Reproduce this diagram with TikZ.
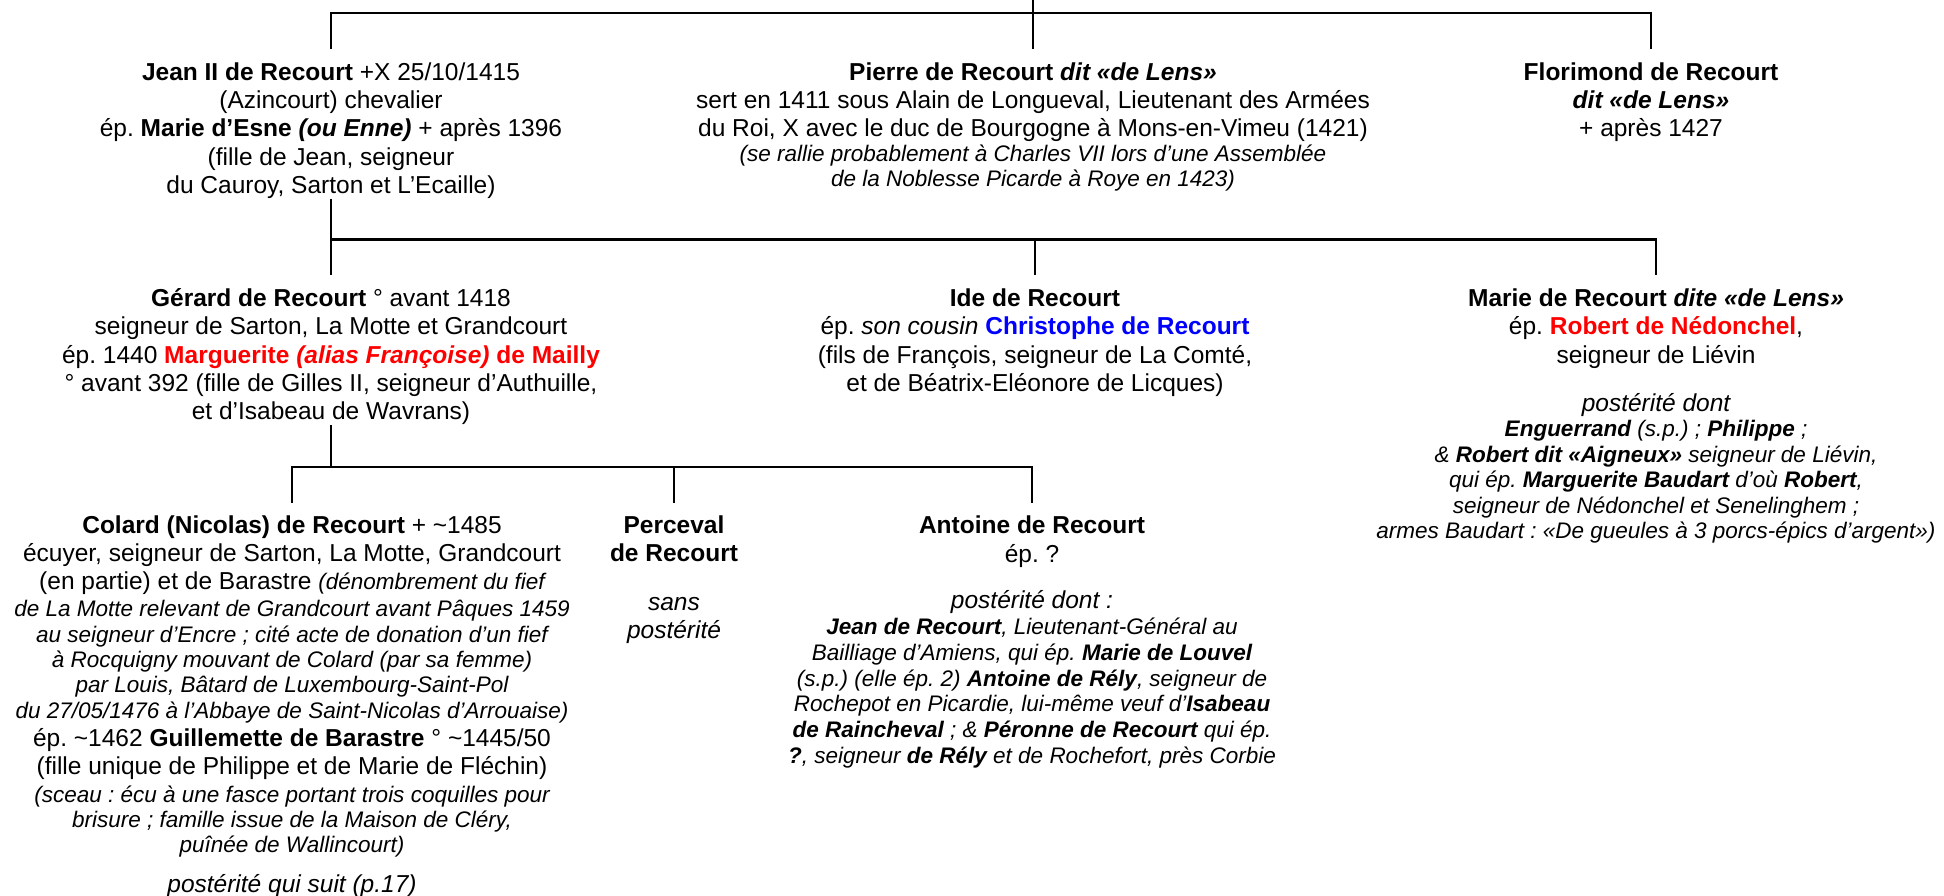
\documentclass[tikz,border=0pt]{standalone}
\usepackage{fontspec}
\setmainfont{Liberation Sans}
\frenchspacing
\definecolor{myred}{RGB}{255,0,0}
\definecolor{myblue}{RGB}{0,0,255}
\newcommand\fR{\fontsize{24.5}{28.3}\selectfont}
\newcommand\fS{\fontsize{22.5}{25.5}\selectfont\itshape}
\newcommand\Blk[1]{\parbox[t]{760pt}{\centering\fR\frenchspacing #1}}
\begin{document}
\begin{tikzpicture}[x=1pt,y=-1pt,
  conn/.style={line width=2.7pt, line join=miter},
  blk/.style={inner sep=0pt, anchor=base}]
\useasboundingbox (0,0) rectangle (1944,896);

% ---------- generation 1 ----------
\node[blk] (jean) at (331,80.4) {\Blk{%
\textbf{Jean II de Recourt} +X 25/10/1415\\
(Azincourt) chevalier\\
ép. \textbf{Marie d’Esne \textit{(ou Enne)}} + après 1396\\
(fille de Jean, seigneur\\
du Cauroy, Sarton et L’Ecaille)}};

\node[blk] (pierre) at (1033,80.4) {\Blk{%
\textbf{Pierre de Recourt \textit{dit «de Lens»}}\\
sert en 1411 sous Alain de Longueval, Lieutenant des Armées\\
du Roi, X avec le duc de Bourgogne à Mons-en-Vimeu (1421)\\[-3.3pt]
{\fS (se rallie probablement à Charles VII lors d’une Assemblée}\\[-3.5pt]
{\fS de la Noblesse Picarde à Roye en 1423)}}};

\node[blk] (flor) at (1651,80.4) {\Blk{%
\textbf{Florimond de Recourt}\\
\textbf{\textit{dit «de Lens»}}\\
+ après 1427}};

% ---------- generation 2 ----------
\node[blk] (gerard) at (331,306.4) {\Blk{%
\textbf{Gérard de Recourt} ° avant 1418\\
seigneur de Sarton, La Motte et Grandcourt\\
ép. 1440 \textcolor{myred}{\textbf{Marguerite \textit{(alias Françoise)} de Mailly}}\\
° avant 392 (fille de Gilles II, seigneur d’Authuille,\\
et d’Isabeau de Wavrans)}};

\node[blk] (ide) at (1035,306.4) {\Blk{%
\textbf{Ide de Recourt}\\
ép. \textit{son cousin} \textcolor{myblue}{\textbf{Christophe de Recourt}}\\
(fils de François, seigneur de La Comté,\\
et de Béatrix-Eléonore de Licques)}};

\node[blk] (marie) at (1656,306.4) {\Blk{%
\textbf{Marie de Recourt \textit{dite «de Lens»}}\\
ép. \textcolor{myred}{\textbf{Robert de Nédonchel}},\\
seigneur de Liévin\\[20pt]
{\itshape postérité dont}\\[-3pt]
{\fS\textbf{Enguerrand} (s.p.) ; \textbf{Philippe} ;}\\[-2.7pt]
{\fS\& \textbf{Robert dit «Aigneux»} seigneur de Liévin,}\\[-2.7pt]
{\fS qui ép. \textbf{Marguerite Baudart} d’où \textbf{Robert},}\\[-2.7pt]
{\fS seigneur de Nédonchel et Senelinghem ;}\\[-2.7pt]
{\fS armes Baudart : «De gueules à 3 porcs-épics d’argent»)}}};

% ---------- generation 3 ----------
\node[blk] (colard) at (292,533.7) {\Blk{%
\textbf{Colard (Nicolas) de Recourt} + \textasciitilde 1485\\[-0.5pt]
écuyer, seigneur de Sarton, La Motte, Grandcourt\\[-0.5pt]
(en partie) et de Barastre {\fS (dénombrement du fief}\\[-0.7pt]
{\fS de La Motte relevant de Grandcourt avant Pâques 1459}\\[-3pt]
{\fS au seigneur d’Encre ; cité acte de donation d’un fief}\\[-3pt]
{\fS à Rocquigny mouvant de Colard (par sa femme)}\\[-3pt]
{\fS par Louis, Bâtard de Luxembourg-Saint-Pol}\\[-3pt]
{\fS du 27/05/1476 à l’Abbaye de Saint-Nicolas d’Arrouaise)}\\[0.4pt]
ép. \textasciitilde 1462 \textbf{Guillemette de Barastre} ° \textasciitilde 1445/50\\[-0.5pt]
(fille unique de Philippe et de Marie de Fléchin)\\[-0.7pt]
{\fS (sceau : écu à une fasce portant trois coquilles pour}\\[-3pt]
{\fS brisure ; famille issue de la Maison de Cléry,}\\[-3pt]
{\fS puînée de Wallincourt)}\\[11.8pt]
{\itshape postérité qui suit (p.17)}}};

\node[blk] (perceval) at (674,533.7) {\Blk{%
\textbf{Perceval}\\[-0.6pt]
\textbf{de Recourt}\\[20.7pt]
{\itshape sans}\\
{\itshape postérité}}};

\node[blk] (antoine) at (1032,533.7) {\Blk{%
\textbf{Antoine de Recourt}\\
ép. ?\\[18.4pt]
{\itshape postérité dont :}\\[-2.3pt]
{\fS\textbf{Jean de Recourt}, Lieutenant-Général au}\\[-2.6pt]
{\fS Bailliage d’Amiens, qui ép. \textbf{Marie de Louvel}}\\[-2.6pt]
{\fS (s.p.) (elle ép. 2) \textbf{Antoine de Rély}, seigneur de}\\[-2.6pt]
{\fS Rochepot en Picardie, lui-même veuf d’\textbf{Isabeau}}\\[-2.6pt]
{\fS\textbf{de Raincheval} ; \& \textbf{Péronne de Recourt} qui ép.}\\[-2.6pt]
{\fS\textbf{?}, seigneur \textbf{de Rély} et de Rochefort, près Corbie}}};

% ---------- connectors ----------
\coordinate (root) at (1033,0);
\coordinate (bar1) at (1033,13);
\coordinate (bar2) at (1035,239.3);
\coordinate (bar3) at (674,467);

\draw[conn] (root) -- ([yshift=31.1pt]pierre.base);
\draw[conn] ([yshift=31.1pt]jean.base) |- (bar1) -| ([yshift=31.1pt]flor.base);

\draw[conn] (jean.south) -- (jean.south |- bar2);
\draw[conn] ([yshift=31.2pt]gerard.base) |- (bar2) -| ([yshift=31.2pt]marie.base);
\draw[conn] (bar2) -- ([yshift=31.2pt]ide.base);

\draw[conn] (gerard.south) -- (gerard.south |- bar3);
\draw[conn] ([yshift=31pt]colard.base) |- (bar3) -| ([yshift=31pt]antoine.base);
\draw[conn] (bar3) -- ([yshift=31pt]perceval.base);
\end{tikzpicture}
\end{document}
